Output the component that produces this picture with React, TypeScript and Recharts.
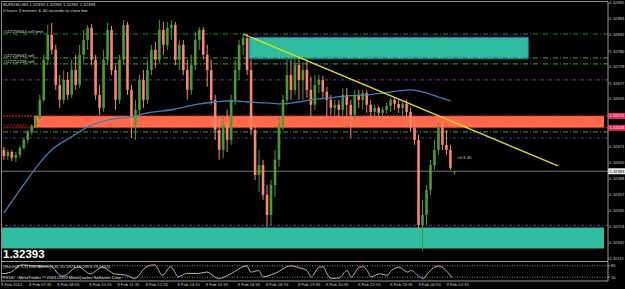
import React from "react";
import {
  Bar,
  ComposedChart,
  Line,
  ReferenceArea,
  ReferenceLine,
  XAxis,
  YAxis,
} from "recharts";

const FONT = "'Liberation Sans', Arial, sans-serif";
const BULL = "#4e9a2c";
const BEAR = "#f7876d";

// EURUSD M5 candles (aggregated), left to right
const opens = [
  1.32462, 1.32442, 1.32455, 1.32436, 1.32446, 1.32468, 1.32494, 1.3252, 1.32539, 1.32565,
  1.32623, 1.32752, 1.32832, 1.32784, 1.32671, 1.32623, 1.32687, 1.32639, 1.32719, 1.32671,
  1.32768, 1.32816, 1.32855, 1.32752, 1.32639, 1.32597, 1.32752, 1.32848, 1.32719, 1.32623,
  1.32752, 1.32864, 1.32655, 1.32542, 1.32591, 1.32687, 1.32623, 1.32719, 1.32784, 1.32752,
  1.32848, 1.328, 1.32855, 1.32864, 1.32752, 1.328, 1.32719, 1.32655, 1.32735, 1.32816,
  1.32848, 1.32768, 1.32719, 1.32623, 1.32526, 1.32462, 1.32542, 1.32494, 1.32623, 1.32719,
  1.328, 1.32822, 1.32719, 1.32526, 1.32381, 1.32413, 1.32317, 1.32252, 1.32349, 1.3243,
  1.32542, 1.32623, 1.32703, 1.32655, 1.32735, 1.32687, 1.32719, 1.32655, 1.32607, 1.32671,
  1.32687, 1.32649, 1.32623, 1.32597, 1.32607, 1.32591, 1.32639, 1.32607, 1.32574, 1.32639,
  1.32623, 1.32645, 1.32607, 1.32584, 1.32597, 1.32581, 1.32591, 1.32603, 1.32623, 1.3261,
  1.32597, 1.3261, 1.32584, 1.32533, 1.32494, 1.3222, 1.32252, 1.32333, 1.32413, 1.32462,
  1.32533, 1.32478, 1.32462, 1.32393,
];
const closes = [
  1.32442, 1.32455, 1.32436, 1.32446, 1.32468, 1.32494, 1.3252, 1.32539, 1.32565, 1.32623,
  1.32752, 1.32832, 1.32784, 1.32671, 1.32623, 1.32687, 1.32639, 1.32719, 1.32671, 1.32768,
  1.32816, 1.32855, 1.32752, 1.32639, 1.32597, 1.32752, 1.32848, 1.32719, 1.32623, 1.32752,
  1.32864, 1.32655, 1.32542, 1.32591, 1.32687, 1.32623, 1.32719, 1.32784, 1.32752, 1.32848,
  1.328, 1.32855, 1.32864, 1.32752, 1.328, 1.32719, 1.32655, 1.32735, 1.32816, 1.32848,
  1.32768, 1.32719, 1.32623, 1.32526, 1.32462, 1.32542, 1.32494, 1.32623, 1.32719, 1.328,
  1.32822, 1.32719, 1.32526, 1.32381, 1.32413, 1.32317, 1.32252, 1.32349, 1.3243, 1.32542,
  1.32623, 1.32703, 1.32655, 1.32735, 1.32687, 1.32719, 1.32655, 1.32607, 1.32671, 1.32687,
  1.32649, 1.32623, 1.32597, 1.32607, 1.32591, 1.32639, 1.32607, 1.32574, 1.32639, 1.32623,
  1.32645, 1.32607, 1.32584, 1.32597, 1.32581, 1.32591, 1.32603, 1.32623, 1.3261, 1.32597,
  1.3261, 1.32584, 1.32533, 1.32494, 1.3222, 1.32252, 1.32333, 1.32413, 1.32462, 1.32533,
  1.32478, 1.32462, 1.32404, 1.32393,
];
const highs = [
  1.32471, 1.32462, 1.32462, 1.32455, 1.32475, 1.325, 1.32526, 1.32545, 1.32574, 1.32639,
  1.32768, 1.32864, 1.32871, 1.328, 1.32703, 1.32719, 1.32713, 1.32752, 1.32768, 1.328,
  1.32848, 1.32864, 1.32867, 1.32768, 1.32671, 1.32784, 1.32871, 1.32861, 1.32735, 1.32768,
  1.3288, 1.32874, 1.32671, 1.32623, 1.32703, 1.32719, 1.32752, 1.328, 1.3281, 1.3288,
  1.32874, 1.32874, 1.3288, 1.32874, 1.32816, 1.32816, 1.32752, 1.32768, 1.32842, 1.32858,
  1.32858, 1.328, 1.32752, 1.32639, 1.32558, 1.32574, 1.32591, 1.32639, 1.32752, 1.32816,
  1.32835, 1.32835, 1.32752, 1.32542, 1.32462, 1.3243, 1.32349, 1.32365, 1.32462, 1.32568,
  1.32639, 1.32752, 1.32752, 1.32758, 1.32761, 1.32745, 1.32752, 1.32697, 1.32703, 1.32703,
  1.327, 1.32665, 1.32639, 1.32623, 1.32623, 1.32661, 1.32661, 1.32623, 1.32655, 1.32655,
  1.32655, 1.32655, 1.32623, 1.32607, 1.32603, 1.326, 1.32613, 1.32629, 1.32629, 1.32623,
  1.32616, 1.32623, 1.32597, 1.32552, 1.3251, 1.32301, 1.32349, 1.3243, 1.32494, 1.32552,
  1.32552, 1.32526, 1.32478, 1.32394,
];
const lows = [
  1.3243, 1.3243, 1.32426, 1.32423, 1.32436, 1.32462, 1.32484, 1.3251, 1.32533, 1.32558,
  1.32616, 1.32735, 1.32768, 1.32655, 1.32597, 1.3261, 1.32623, 1.32629, 1.32655, 1.32661,
  1.32745, 1.32784, 1.32735, 1.32623, 1.32574, 1.32584, 1.32735, 1.32703, 1.32591, 1.3261,
  1.32735, 1.32639, 1.325, 1.32494, 1.32565, 1.32597, 1.3261, 1.32703, 1.32726, 1.32739,
  1.32768, 1.32784, 1.32816, 1.32735, 1.32719, 1.32703, 1.32623, 1.32639, 1.32719, 1.32784,
  1.32752, 1.32665, 1.32607, 1.32494, 1.3243, 1.32436, 1.32455, 1.32478, 1.32607, 1.32687,
  1.32768, 1.32703, 1.3251, 1.32365, 1.32327, 1.32301, 1.32214, 1.3222, 1.3231, 1.32407,
  1.32526, 1.32607, 1.32623, 1.32639, 1.32623, 1.32623, 1.32629, 1.32568, 1.32591, 1.32645,
  1.32629, 1.32568, 1.32574, 1.32568, 1.32568, 1.32574, 1.32568, 1.325, 1.32558, 1.32597,
  1.32591, 1.32581, 1.32568, 1.32568, 1.32571, 1.32568, 1.32578, 1.32584, 1.32591, 1.32581,
  1.32571, 1.32565, 1.3252, 1.32478, 1.32204, 1.32137, 1.3222, 1.32317, 1.32397, 1.32446,
  1.32462, 1.32446, 1.32397, 1.32381,
];

// moving average, read at a few bars
const maBars = [0, 4, 9, 12, 17, 21, 26, 32, 36, 42, 49, 53, 57, 61, 66, 70, 74, 77, 82, 86, 91, 95, 99, 102, 106, 109, 112];
const maValues = [
  1.32259, 1.32333, 1.3242, 1.32462, 1.32504, 1.32536, 1.32558, 1.32568, 1.32581, 1.32591,
  1.3261, 1.32616, 1.3262, 1.32616, 1.32613, 1.3261, 1.32616, 1.32623, 1.32629, 1.32636,
  1.32639, 1.32645, 1.32652, 1.32655, 1.32645, 1.32632, 1.3262,
];

// stochastic oscillator turning points
const stochBars = [
  0, 2, 5, 8, 12, 15, 19, 22, 25, 28, 31, 33, 36, 38, 40, 42, 44, 46, 49, 51,
  54, 57, 61, 62, 64, 65, 68, 72, 74, 76, 77, 79, 80, 81, 82, 84, 86, 87, 89, 90,
  91, 92, 94, 96, 97, 99, 101, 102, 104, 105, 106, 108, 109, 111, 112,
];
const stochValues = [
  38, 45, 85, 80, 78, 25, 75, 38, 72, 38, 30, 13, 75, 85, 30, 75, 22, 40, 40, 47,
  13, 38, 80, 47, 55, 22, 40, 80, 70, 55, 22, 72, 75, 38, 13, 17, 55, 22, 72, 75,
  55, 22, 38, 30, 55, 72, 47, 55, 22, 13, 38, 75, 78, 47, 22,
];
const stochLevels = [20, 80];

// price scale labels (the two under the stop tags are hidden in the terminal)
const priceTicks = [
  1.32935, 1.32884, 1.32832, 1.3278, 1.32729, 1.32677, 1.32626,
  1.32471, 1.3242, 1.32368, 1.32317, 1.32265, 1.32214, 1.32162, 1.32111,
];

const dateTickBars = [0, 7, 14, 22, 29, 36, 44, 51, 59, 66, 74, 81, 89, 97, 104, 111];
const dateLabels = [
  "8 Feb 2012", "8 Feb 07:35", "8 Feb 08:55", "8 Feb 10:15", "8 Feb 11:35", "8 Feb 12:55",
  "8 Feb 14:15", "8 Feb 15:35", "8 Feb 16:55", "8 Feb 18:15", "8 Feb 19:35", "8 Feb 20:55",
  "8 Feb 22:15", "8 Feb 23:35", "9 Feb 00:55", "9 Feb 02:15",
];

// chart objects
const greenLevels = [1.32835, 1.32758, 1.32739, 1.3252];
const purpleLevels = [1.32687, 1.325, 1.32219];
const stopBand = [1.32533, 1.32571];
const sellZone = [1.32755, 1.32824];
const buyZone = [1.32144, 1.32212];
const trendBars = [60, 139];
const trendPrices = [1.32835, 1.3241];
const lastPrice = 1.32393;

const SLOTS = 152;

const rows = Array.from({ length: SLOTS }, (_, i) => {
  const has = i < opens.length;
  const m = maBars.indexOf(i);
  const s = stochBars.indexOf(i);
  return {
    idx: i,
    open: has ? opens[i] : null,
    close: has ? closes[i] : null,
    high: has ? highs[i] : null,
    low: has ? lows[i] : null,
    range: has ? [lows[i], highs[i]] : null,
    ma: m >= 0 ? maValues[m] : null,
    stoch: s >= 0 ? stochValues[s] : null,
  };
});

const Candle = (props: any) => {
  const { x, y, width, height, payload } = props;
  if (!payload || payload.open == null || y == null) return <g />;
  const { open, close, high, low } = payload;
  const top = Math.min(y, y + height);
  const h = Math.abs(height);
  const span = high - low || 1;
  const py = (v: number) => top + ((high - v) / span) * h;
  const cx = x + width / 2;
  const color = close >= open ? BULL : BEAR;
  const bTop = py(Math.max(open, close));
  const bBot = py(Math.min(open, close));
  return (
    <g>
      <line x1={cx} x2={cx} y1={top} y2={top + Math.max(h, 1)} stroke={color} strokeWidth={1} />
      <rect x={cx - 1.3} y={bTop} width={2.6} height={Math.max(1, bBot - bTop)} fill={color} />
    </g>
  );
};

const AxisTag = ({ viewBox, text, bg, fg }: any) => {
  if (!viewBox) return null;
  const x = viewBox.x + viewBox.width;
  const y = viewBox.y;
  return (
    <g>
      <rect x={x} y={y - 3} width={17} height={6} fill={bg} />
      <text x={x + 1.5} y={y + 1.5} fontSize={4.1} fill={fg} fontFamily={FONT}>
        {text}
      </text>
    </g>
  );
};

const DateTick = ({ x, y, payload }: any) => {
  const label = dateLabels[dateTickBars.indexOf(payload.value)];
  return (
    <text x={x - 1} y={y + 5} fontSize={4.2} fill="#c8c8c8" fontFamily={FONT}>
      {label}
    </text>
  );
};

const StochDot = (p: any) => {
  const { cx, cy, value, index } = p;
  if (value == null || cx == null) return <g key={index} />;
  if (value >= 70) return <circle key={index} cx={cx} cy={cy} r={1.1} fill="#e0304a" />;
  if (value <= 30) return <circle key={index} cx={cx} cy={cy} r={1.1} fill="#5050e0" />;
  return <g key={index} />;
};

const fmt = (v: number) => v.toFixed(5);

export default function App() {
  return (
    <div style={{ position: "relative", width: 625, height: 289, background: "#000", overflow: "hidden" }}>
      <style>{"body{margin:0;background:#000}"}</style>

      <div style={{ position: "absolute", left: 0, top: 0 }}>
        <ComposedChart width={625} height={261} data={rows} margin={{ top: 2, right: 0, bottom: 0, left: 2 }}>
          <XAxis dataKey="idx" hide />
          <YAxis
            orientation="right"
            type="number"
            domain={[1.32104, 1.32938]}
            allowDataOverflow
            ticks={priceTicks}
            interval={0}
            width={17}
            tickSize={1.5}
            tickMargin={0}
            axisLine={{ stroke: "#9a9a9a" }}
            tickLine={{ stroke: "#9a9a9a" }}
            tick={{ fontSize: 4.1, fill: "#d0d0d0", fontFamily: FONT }}
            tickFormatter={fmt}
          />
          <ReferenceArea x1={0} x2={150} y1={buyZone[0]} y2={buyZone[1]} fill="#2fbc9f" fillOpacity={1} stroke="none" zIndex={50} />
          <ReferenceArea x1={62} x2={131} y1={sellZone[0]} y2={sellZone[1]} fill="#2fbc9f" fillOpacity={1} stroke="#1e70d0" zIndex={50} />
          <ReferenceArea x1={8} x2={150} y1={stopBand[0]} y2={stopBand[1]} fill="#ff6a4d" fillOpacity={1} stroke="none" zIndex={50} />
          {greenLevels.map((v) => (
            <ReferenceLine key={"g" + v} y={v} stroke="#2a8a2a" strokeWidth={1.2} strokeDasharray="5 2 1 2" />
          ))}
          {purpleLevels.map((v) => (
            <ReferenceLine key={"p" + v} y={v} stroke="#5b2c8f" strokeWidth={1.2} strokeDasharray="3 2 1 2" />
          ))}
          <ReferenceLine
            y={stopBand[1]}
            stroke="#ff2a2a"
            strokeDasharray="2 1"
            label={(p: any) => <AxisTag {...p} text={fmt(stopBand[1])} bg="#e42a5c" fg="#ffe4e4" />}
          />
          <ReferenceLine
            y={stopBand[0]}
            stroke="#cc1a1a"
            strokeDasharray="2 1"
            label={(p: any) => <AxisTag {...p} text={fmt(stopBand[0])} bg="#e42a5c" fg="#ffe4e4" />}
          />
          <ReferenceLine
            y={lastPrice}
            stroke="#7a7a7a"
            label={(p: any) => <AxisTag {...p} text={fmt(lastPrice)} bg="#ececec" fg="#000" />}
          />
          <Bar dataKey="range" shape={Candle} isAnimationActive={false} zIndex={500} />
          <Line dataKey="ma" type="monotone" connectNulls stroke="#3f7fb8" strokeWidth={1.3} dot={false} isAnimationActive={false} zIndex={600} />
          <ReferenceLine
            segment={[
              { x: trendBars[0], y: trendPrices[0] },
              { x: trendBars[1], y: trendPrices[1] },
            ]}
            stroke="#dede20"
            strokeWidth={1.3}
            zIndex={700}
          />
        </ComposedChart>
      </div>

      <div style={{ position: "absolute", left: 0, top: 262 }}>
        <ComposedChart width={625} height={27} data={rows} margin={{ top: 0, right: 0, bottom: 0, left: 2 }}>
          <XAxis
            dataKey="idx"
            ticks={dateTickBars}
            interval={0}
            height={8}
            tick={(p: any) => <DateTick {...p} />}
            tickLine={false}
            tickSize={0}
            tickMargin={0}
            axisLine={{ stroke: "#9a9a9a" }}
          />
          <YAxis
            orientation="right"
            type="number"
            domain={[0, 100]}
            ticks={stochLevels}
            interval={0}
            width={17}
            tickSize={2}
            tickMargin={1}
            axisLine={{ stroke: "#9a9a9a" }}
            tickLine={{ stroke: "#9a9a9a" }}
            tick={{ fontSize: 4.1, fill: "#d0d0d0", fontFamily: FONT }}
          />
          {stochLevels.map((v) => (
            <ReferenceLine key={v} y={v} stroke="#8a8a8a" strokeDasharray="1 1.5" />
          ))}
          <Line dataKey="stoch" type="monotone" connectNulls stroke="#a8c8a0" strokeWidth={1} dot={StochDot} isAnimationActive={false} />
        </ComposedChart>
      </div>

      <div style={{ position: "absolute", left: 1, top: 1, width: 607, height: 1, background: "#8c8c8c" }} />
      <div style={{ position: "absolute", left: 1, top: 1, width: 1, height: 281, background: "#8c8c8c" }} />
      <div style={{ position: "absolute", left: 1, top: 261, width: 607, height: 1, background: "#a0a0a0" }} />

      <svg width={625} height={289} style={{ position: "absolute", left: 0, top: 0, pointerEvents: "none" }}>
        <g fontFamily={FONT} fontSize={4.3} fill="#dcdcdc">
          <text x={3} y={6}>EURUSD,M5  1.32393 1.32394 1.32381 1.32393</text>
          <text x={3} y={12}>0 hours 3 minutes &amp; 40 seconds to close bar</text>
          <text x={3} y={33}>#117259444 sell limit</text>
          <text x={3} y={56.5}>#117259643 sell</text>
          <text x={3} y={62.5}>#117252238 sell</text>
          <text x={3} y={127} fill="#c02828">#117259643 sl</text>
          <text x={457} y={159} fill="#c8c8c8">&lt;0:3:40</text>
          <text x={3} y={268}>(Stoch(8,3,3) with Alerts (5,8) 15.1874 16.1874 29.5515)</text>
          <text x={3} y={278.5}>FXDD - MetaTrader, © 2001-2012 MetaQuotes Software Corp.</text>
        </g>
        <text x={3} y={258} fontFamily={FONT} fontSize={11.5} fontWeight="bold" fill="#ffffff">
          1.32393
        </text>
      </svg>
    </div>
  );
}
